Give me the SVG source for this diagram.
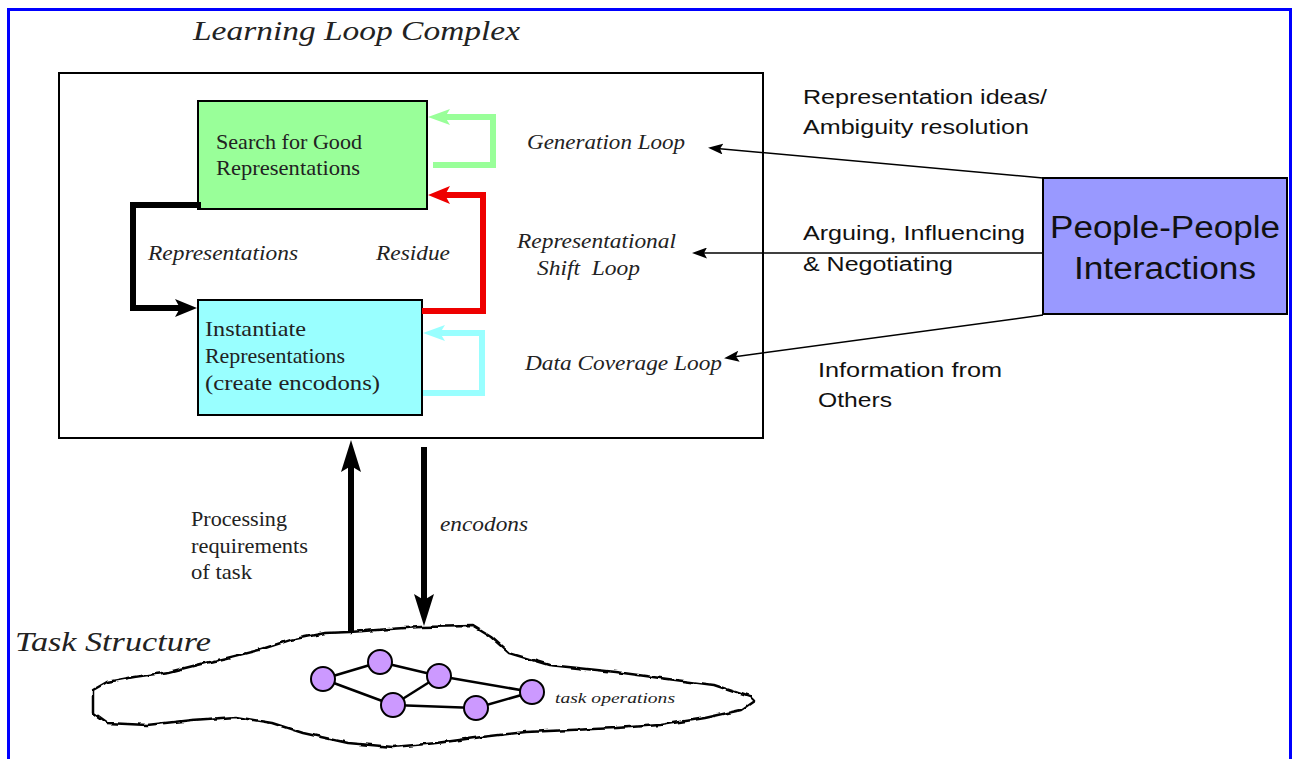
<svg xmlns="http://www.w3.org/2000/svg" width="1294" height="759" viewBox="0 0 1294 759">
<style>
.serif{font-family:"Liberation Serif","DejaVu Serif",serif;fill:#222}
.it{font-style:italic}
.sans{font-family:"Liberation Sans",Arial,sans-serif;fill:#111}
.box{stroke:#000;stroke-width:2}
.thick{fill:none;stroke-width:6;stroke-linejoin:miter}
.thin{fill:none;stroke:#000;stroke-width:1.5}
.edge{stroke:#000;stroke-width:2.5}
.op{fill:#cc99ff;stroke:#000;stroke-width:2}
</style>
<defs>
<marker id="hBlack" markerUnits="userSpaceOnUse" markerWidth="22" markerHeight="18" refX="10" refY="9" orient="auto"><path d="M0,0 L22,9 L0,18 L5,9 z" fill="#000"/></marker>
<marker id="hRed" markerUnits="userSpaceOnUse" markerWidth="22" markerHeight="18" refX="10" refY="9" orient="auto"><path d="M0,0 L22,9 L0,18 L5,9 z" fill="#ee0000"/></marker>
<marker id="hGreen" markerUnits="userSpaceOnUse" markerWidth="22" markerHeight="16" refX="10" refY="8" orient="auto"><path d="M0,0 L22,8 L0,16 L5,8 z" fill="#99ff99"/></marker>
<marker id="hCyan" markerUnits="userSpaceOnUse" markerWidth="22" markerHeight="16" refX="10" refY="8" orient="auto"><path d="M0,0 L22,8 L0,16 L5,8 z" fill="#99ffff"/></marker>
<marker id="hV" markerUnits="userSpaceOnUse" markerWidth="32" markerHeight="20" refX="14" refY="10" orient="auto"><path d="M0,0 L32,10 L0,20 L6,10 z" fill="#000"/></marker>
<marker id="hThin" markerUnits="userSpaceOnUse" markerWidth="15" markerHeight="11" refX="6" refY="5.5" orient="auto"><path d="M0,0 L15,5.5 L0,11 L3,5.5 z" fill="#000"/></marker>
<filter id="rough" x="-5%" y="-20%" width="110%" height="140%"><feTurbulence type="fractalNoise" baseFrequency="0.09" numOctaves="2" seed="3"/><feDisplacementMap in="SourceGraphic" scale="4" xChannelSelector="R" yChannelSelector="G"/></filter>
</defs>
<rect x="8.5" y="9.5" width="1282" height="760" fill="#fff" stroke="#0000ff" stroke-width="3"/>
<text class="serif it" x="193" y="40" font-size="28" textLength="327" lengthAdjust="spacingAndGlyphs">Learning Loop Complex</text>
<g id="learning-loop-complex"><rect class="box" x="59" y="73" width="704" height="365" fill="#fff"/></g>
<g id="search"><rect class="box" x="198" y="101" width="229" height="108" fill="#99ff99"/>
<text class="serif" x="216" y="149" font-size="21" textLength="146" lengthAdjust="spacingAndGlyphs">Search for Good</text>
<text class="serif" x="216" y="175" font-size="21" textLength="144" lengthAdjust="spacingAndGlyphs">Representations</text></g>
<g id="instantiate"><rect class="box" x="198" y="300" width="224" height="115" fill="#99ffff"/>
<text class="serif" x="205" y="336" font-size="21" textLength="101" lengthAdjust="spacingAndGlyphs">Instantiate</text>
<text class="serif" x="205" y="363" font-size="21" textLength="140" lengthAdjust="spacingAndGlyphs">Representations</text>
<text class="serif" x="205" y="390" font-size="21" textLength="175" lengthAdjust="spacingAndGlyphs">(create encodons)</text></g>
<g id="people"><rect class="box" x="1043" y="178" width="244" height="136" fill="#9999ff" stroke-width="1.5"/>
<text class="sans" x="1165" y="238" font-size="31" text-anchor="middle" textLength="230" lengthAdjust="spacingAndGlyphs">People-People</text>
<text class="sans" x="1165" y="279" font-size="31" text-anchor="middle" textLength="182" lengthAdjust="spacingAndGlyphs">Interactions</text></g>
<g id="task-structure">
<path d="M93,690 L107,682 L134,677 L169,672 L205,663 L227,658 L259,650 L290,640 L325,633 L350,632 L390,629 L421,627 L473,626 L491,637 L509,653 L549,665 L616,672 L660,678 L714,685 L750,697 L754,701 L741,710 L705,718 L660,725 L616,728 L571,730 L526,732 L482,737 L437,743 L393,747 L348,743 L303,733 L272,723 L236,717 L192,720 L147,725 L107,723 L93,713 Z" fill="#fff" stroke="#000" stroke-width="2.5" stroke-linejoin="round" filter="url(#rough)"/>
<text class="serif it" x="15" y="651" font-size="28" textLength="196" lengthAdjust="spacingAndGlyphs">Task Structure</text>
<line class="edge" x1="323" y1="679" x2="380" y2="662"/>
<line class="edge" x1="380" y1="662" x2="439" y2="676"/>
<line class="edge" x1="323" y1="679" x2="393" y2="705"/>
<line class="edge" x1="439" y1="676" x2="393" y2="705"/>
<line class="edge" x1="393" y1="705" x2="476" y2="708"/>
<line class="edge" x1="476" y1="708" x2="532" y2="692"/>
<line class="edge" x1="439" y1="676" x2="532" y2="692"/>
<circle class="op" cx="323" cy="679" r="12"/>
<circle class="op" cx="380" cy="662" r="12"/>
<circle class="op" cx="439" cy="676" r="12"/>
<circle class="op" cx="393" cy="705" r="12"/>
<circle class="op" cx="476" cy="708" r="12"/>
<circle class="op" cx="532" cy="692" r="12"/>
<text class="serif it" x="555" y="703" font-size="15" textLength="120" lengthAdjust="spacingAndGlyphs">task operations</text>
</g>
<g id="connectors">
<path class="thick" stroke="#000" d="M201,205 H133 V308 H185" marker-end="url(#hBlack)"/>
<path class="thick" stroke="#ee0000" d="M422,311 H483 V195 H440" marker-end="url(#hRed)"/>
<path class="thick" stroke="#99ff99" d="M433,165 H493 V117 H440" marker-end="url(#hGreen)"/>
<path class="thick" stroke="#99ffff" d="M423,393 H482 V333 H435" marker-end="url(#hCyan)"/>
<line x1="351" y1="632" x2="351" y2="458" stroke="#000" stroke-width="6" marker-end="url(#hV)"/>
<line x1="424" y1="447" x2="424" y2="608" stroke="#000" stroke-width="6" marker-end="url(#hV)"/>
<line class="thin" x1="1043" y1="178" x2="717" y2="148.5" marker-end="url(#hThin)"/>
<line class="thin" x1="1043" y1="253" x2="701" y2="253" marker-end="url(#hThin)"/>
<line class="thin" x1="1043" y1="315" x2="733" y2="357" marker-end="url(#hThin)"/>
</g>
<g id="labels">
<text class="serif it" x="148" y="260" font-size="20" textLength="150" lengthAdjust="spacingAndGlyphs">Representations</text>
<text class="serif it" x="376" y="260" font-size="20" textLength="74" lengthAdjust="spacingAndGlyphs">Residue</text>
<text class="serif it" x="527" y="149" font-size="20" textLength="158" lengthAdjust="spacingAndGlyphs">Generation Loop</text>
<text class="serif it" x="517" y="248" font-size="20" textLength="159" lengthAdjust="spacingAndGlyphs">Representational</text>
<text class="serif it" x="537" y="275" font-size="20" textLength="103" lengthAdjust="spacingAndGlyphs" xml:space="preserve">Shift  Loop</text>
<text class="serif it" x="525" y="370" font-size="20" textLength="197" lengthAdjust="spacingAndGlyphs">Data Coverage Loop</text>
<text class="sans" x="803" y="104" font-size="20" textLength="244" lengthAdjust="spacingAndGlyphs">Representation ideas/</text>
<text class="sans" x="803" y="134" font-size="20" textLength="226" lengthAdjust="spacingAndGlyphs">Ambiguity resolution</text>
<text class="sans" x="803" y="240" font-size="20" textLength="222" lengthAdjust="spacingAndGlyphs">Arguing, Influencing</text>
<text class="sans" x="803" y="271" font-size="20" textLength="150" lengthAdjust="spacingAndGlyphs">&amp; Negotiating</text>
<text class="sans" x="818" y="377" font-size="20" textLength="184" lengthAdjust="spacingAndGlyphs">Information from</text>
<text class="sans" x="818" y="407" font-size="20" textLength="74" lengthAdjust="spacingAndGlyphs">Others</text>
<text class="serif" x="191" y="526" font-size="21" textLength="96" lengthAdjust="spacingAndGlyphs">Processing</text>
<text class="serif" x="191" y="553" font-size="21" textLength="117" lengthAdjust="spacingAndGlyphs">requirements</text>
<text class="serif" x="191" y="579" font-size="21" textLength="61" lengthAdjust="spacingAndGlyphs">of task</text>
<text class="serif it" x="440" y="531" font-size="20" textLength="88" lengthAdjust="spacingAndGlyphs">encodons</text>
</g>
</svg>
